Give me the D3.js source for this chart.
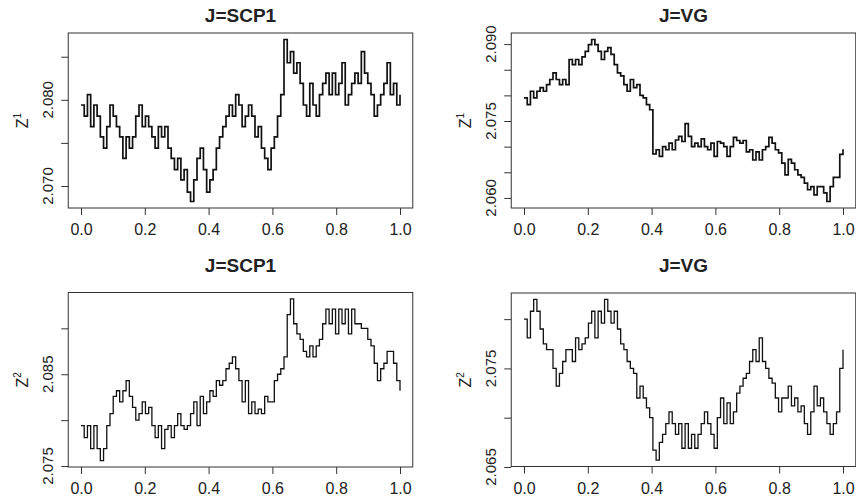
<!DOCTYPE html>
<html>
<head>
<meta charset="utf-8">
<script src="https://cdn.jsdelivr.net/npm/d3@7"></script>
<style>
body { margin:0; background:#fff; }
svg { display:block; }
text { font-family: "Liberation Sans", Arial, sans-serif; fill:#222; }
</style>
</head>
<body>
<svg width="856" height="498"></svg>
<script>
// panel titles and axis labels
var titles = ['J=SCP1', 'J=VG', 'J=SCP1', 'J=VG'];
var yNames = ['1', '1', '2', '2'];

var xTicks = [0, 0.2, 0.4, 0.6, 0.8, 1.0];

// y ticks and which of them get a label (R drops the crowded ones)
var yTicks1 = [2.070, 2.075, 2.080, 2.085];
var yLabs1 = [2.070, 2.080];
var yTicks2 = [2.060, 2.065, 2.070, 2.075, 2.080, 2.085, 2.090];
var yLabs2 = [2.060, 2.075, 2.090];
var yTicks3 = [2.075, 2.080, 2.085, 2.090];
var yLabs3 = [2.075, 2.085];
var yTicks4 = [2.065, 2.070, 2.075, 2.080];
var yLabs4 = [2.065, 2.075];

// Z^1 under SCP1 jumps
var z1SCP = [2.0794,2.0781,2.0806,2.0769,2.0794,2.0781,2.0757,2.0744,2.0769,2.0794,
  2.0781,2.0769,2.0757,2.0732,2.0757,2.0744,2.0757,2.0781,2.0794,2.0769,
  2.0781,2.0769,2.0757,2.0744,2.0769,2.0757,2.0769,2.0744,2.0732,2.0719,
  2.0732,2.0707,2.0719,2.0693,2.0682,2.0707,2.0732,2.0744,2.0719,2.0693,
  2.0707,2.0719,2.0744,2.0757,2.0769,2.0781,2.0794,2.0781,2.0806,2.0794,
  2.0769,2.0781,2.0794,2.0781,2.0757,2.0769,2.0744,2.0732,2.0719,2.0744,
  2.0757,2.0781,2.0806,2.0870,2.0843,2.0856,2.0831,2.0843,2.0819,2.0794,
  2.0781,2.0819,2.0794,2.0781,2.0806,2.0819,2.0831,2.0806,2.0831,2.0806,
  2.0819,2.0843,2.0794,2.0806,2.0819,2.0831,2.0819,2.0856,2.0831,2.0819,
  2.0806,2.0781,2.0794,2.0806,2.0819,2.0843,2.0806,2.0819,2.0794,2.0806];

// Z^1 under VG jumps
var z1VG = [2.0795,2.0782,2.0808,2.0795,2.0808,2.0815,2.0808,2.0821,2.0831,2.0844,
  2.0831,2.0821,2.0831,2.0821,2.0870,2.0860,2.0870,2.0860,2.0875,2.0886,
  2.0899,2.0909,2.0899,2.0886,2.0870,2.0886,2.0893,2.0880,2.0860,2.0844,
  2.0838,2.0821,2.0808,2.0831,2.0815,2.0821,2.0800,2.0795,2.0782,2.0772,
  2.0686,2.0694,2.0681,2.0700,2.0694,2.0707,2.0694,2.0713,2.0720,2.0710,
  2.0745,2.0720,2.0700,2.0707,2.0700,2.0715,2.0700,2.0694,2.0707,2.0681,
  2.0710,2.0707,2.0700,2.0681,2.0700,2.0718,2.0712,2.0707,2.0712,2.0690,
  2.0694,2.0674,2.0690,2.0674,2.0694,2.0700,2.0718,2.0707,2.0694,2.0688,
  2.0668,2.0645,2.0675,2.0668,2.0655,2.0645,2.0640,2.0629,2.0616,2.0622,
  2.0606,2.0622,2.0622,2.0610,2.0593,2.0622,2.0640,2.0640,2.0685,2.0695];

// Z^2 under SCP1 jumps
var z2SCP = [2.0794,2.0781,2.0794,2.0769,2.0794,2.0769,2.0756,2.0769,2.0794,2.0807,
  2.0826,2.0832,2.0820,2.0832,2.0843,2.0826,2.0814,2.0800,2.0807,2.0820,
  2.0807,2.0814,2.0794,2.0781,2.0794,2.0769,2.0790,2.0794,2.0781,2.0794,
  2.0807,2.0794,2.0790,2.0794,2.0807,2.0820,2.0794,2.0826,2.0807,2.0820,
  2.0832,2.0826,2.0843,2.0838,2.0843,2.0856,2.0862,2.0869,2.0856,2.0843,
  2.0820,2.0843,2.0807,2.0820,2.0807,2.0812,2.0807,2.0826,2.0820,2.0820,
  2.0843,2.0850,2.0856,2.0869,2.0915,2.0932,2.0905,2.0894,2.0888,2.0875,
  2.0869,2.0881,2.0869,2.0881,2.0888,2.0905,2.0921,2.0905,2.0921,2.0894,
  2.0921,2.0905,2.0921,2.0894,2.0921,2.0905,2.0905,2.0900,2.0900,2.0888,
  2.0881,2.0862,2.0843,2.0856,2.0862,2.0875,2.0875,2.0862,2.0843,2.0832];

// Z^2 under VG jumps
var z2VG = [2.0800,2.0781,2.0808,2.0820,2.0808,2.0790,2.0775,2.0769,2.0769,2.0750,
  2.0732,2.0745,2.0757,2.0769,2.0769,2.0757,2.0781,2.0769,2.0775,2.0781,
  2.0796,2.0808,2.0781,2.0808,2.0796,2.0820,2.0808,2.0796,2.0808,2.0790,
  2.0775,2.0769,2.0757,2.0750,2.0745,2.0720,2.0732,2.0720,2.0710,2.0700,
  2.0667,2.0657,2.0675,2.0683,2.0694,2.0706,2.0694,2.0683,2.0694,2.0669,
  2.0694,2.0669,2.0683,2.0669,2.0683,2.0694,2.0706,2.0694,2.0683,2.0669,
  2.0700,2.0720,2.0694,2.0715,2.0694,2.0706,2.0725,2.0732,2.0740,2.0745,
  2.0757,2.0769,2.0757,2.0781,2.0757,2.0750,2.0740,2.0735,2.0720,2.0706,
  2.0720,2.0720,2.0732,2.0712,2.0720,2.0706,2.0712,2.0694,2.0683,2.0706,
  2.0732,2.0712,2.0720,2.0706,2.0694,2.0683,2.0694,2.0706,2.0750,2.0769];

var svg = d3.select('svg');

function drawPanel(vals, title, yName, yTicks, yLabs, x0, top, bottom, titleY, lw) {
    var n = vals.length;
    var x = d3.scaleLinear().domain([0, 1]).range([x0, x0 + 319]);
    var ext = d3.extent(vals);
    var pad = (ext[1] - ext[0]) * 0.04;
    var y = d3.scaleLinear().domain([ext[0] - pad, ext[1] + pad]).range([bottom, top]);
    var g = svg.append('g');

    // box
    g.append('rect').attr('x', x(-0.04)).attr('y', top)
        .attr('width', x(1.04) - x(-0.04)).attr('height', bottom - top)
        .attr('fill', 'none').attr('stroke', '#333').attr('stroke-width', 1);

    // step series
    var line = d3.line()
        .x(function(d, i) { return x(i / (n - 1)); })
        .y(function(d) { return y(d); })
        .curve(d3.curveStepAfter);
    g.append('path').datum(vals).attr('d', line)
        .attr('fill', 'none').attr('stroke', '#111').attr('stroke-width', lw);

    // x axis
    var xa = g.append('g').attr('transform', 'translate(0,' + bottom + ')')
        .call(d3.axisBottom(x).tickValues(xTicks).tickSize(7).tickFormat(d3.format('.1f')));
    xa.select('.domain').remove();
    xa.selectAll('line').attr('stroke', '#333');
    xa.selectAll('text').attr('font-size', 16).attr('dy', null).attr('y', 0)
        .attr('transform', 'translate(0,' + 27 + ')').attr('fill', '#222');

    // y axis
    var ya = g.append('g').attr('transform', 'translate(' + x(-0.04) + ',0)')
        .call(d3.axisLeft(y).tickValues(yTicks).tickSize(7).tickFormat(function() { return ''; }));
    ya.select('.domain').remove();
    ya.selectAll('line').attr('stroke', '#333');
    yLabs.forEach(function(v) {
        g.append('text')
            .attr('transform', 'translate(' + (x(-0.04) - 15) + ',' + y(v) + ') rotate(-90)')
            .attr('text-anchor', 'middle').attr('font-size', 15).text(d3.format('.3f')(v));
    });

    // y axis title Z^k
    var yt = g.append('text')
        .attr('transform', 'translate(' + (x(-0.04) - 40) + ',' + ((top + bottom) / 2) + ') rotate(-90)')
        .attr('text-anchor', 'middle').attr('font-size', 16);
    yt.append('tspan').text('Z');
    yt.append('tspan').attr('font-size', 10).attr('dy', -7).text(yName);

    // title
    g.append('text').attr('x', (x(-0.04) + x(1.04)) / 2).attr('y', titleY)
        .attr('text-anchor', 'middle').attr('font-size', 19).attr('font-weight', 'bold')
        .attr('fill', '#111').text(title);
}

drawPanel(z1SCP, titles[0], yNames[0], yTicks1, yLabs1, 81, 33, 208, 22, 1.7);
drawPanel(z1VG, titles[1], yNames[1], yTicks2, yLabs2, 524, 33, 208, 22, 1.7);
drawPanel(z2SCP, titles[2], yNames[2], yTicks3, yLabs3, 81, 292.5, 467, 272, 1.3);
drawPanel(z2VG, titles[3], yNames[3], yTicks4, yLabs4, 524, 293, 466.5, 272, 1.3);
</script>
</body>
</html>
